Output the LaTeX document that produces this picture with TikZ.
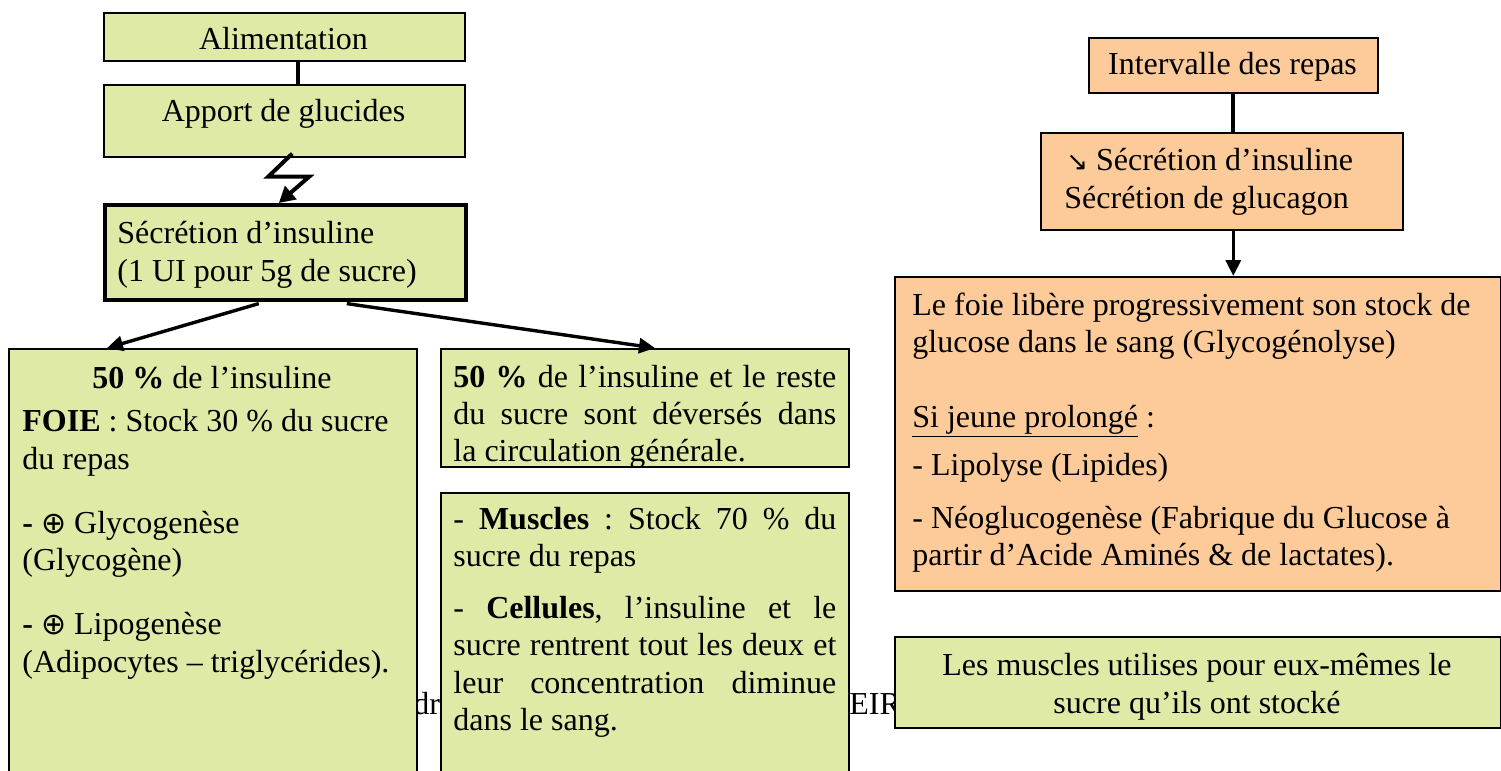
\documentclass[tikz,border=0pt]{standalone}
\usepackage{fontspec}
\setmainfont{Liberation Serif}
\newfontfamily\symf{DejaVu Sans}
\usetikzlibrary{arrows.meta}
\definecolor{gfill}{HTML}{DEEAA6}
\definecolor{ofill}{HTML}{FDCB99}
\newcommand\jl[1]{\makebox[191.5pt][s]{#1}}
\newcommand\oplusg{{\symf\fontsize{15}{17}\selectfont ⊕}}
\frenchspacing
\begin{document}
\begin{tikzpicture}[x=0.5pt,y=-0.5pt,
  box/.style={draw, line width=0.8pt, inner sep=0pt, anchor=north west},
  gbox/.style={box, fill=gfill},
  obox/.style={box, fill=ofill},
  txt/.style={inner sep=0pt, anchor=base west, font=\fontsize{16}{19}\selectfont},
  ctxt/.style={txt, anchor=base},
  conn/.style={line width=2pt},
  arr/.style={line width=1.7pt, -{Triangle[length=8pt,width=7.5pt]}}]
\useasboundingbox (0,0) rectangle (1501,771);
% partly hidden background text
\node[txt] (bgA) at (413,714) {dro};
\node[txt] (bgB) at (849,714) {EIRO};
% left column
\node[gbox, minimum width=180.5pt, minimum height=24pt] (alim) at (103,12) {};
\node[ctxt] (talim) at (283.5,49) {Alimentation};
\node[gbox, minimum width=180.5pt, minimum height=36pt] (apport) at (103,84) {};
\node[ctxt] (tapport) at (283.5,121) {Apport de glucides};
\node[gbox, line width=1.8pt, minimum width=180.5pt, minimum height=47.5pt] (secr) at (103,203) {};
\node[txt] (tsecr1) at (117,243) {Sécrétion d’insuline};
\node[txt] (tsecr2) at (117,281) {(1 UI pour 5g de sucre)};
\draw[conn] ([xshift=6.75pt]alim.south) -- ([xshift=6.75pt]apport.north);
\draw[line width=2pt, -{Triangle[length=8pt,width=8.5pt]}] ([xshift=4pt,yshift=2pt]apport.south) -- ++(-24,23) coordinate (z1) -- ++(41,0) coordinate (z2) -- ([xshift=-3.25pt]secr.north);
% left big box
\node[gbox, minimum width=204pt, minimum height=225pt] (foie) at (8,348) {};
\node[ctxt] (f1) at (212,388) {\textbf{50 \%} de l’insuline};
\node[txt] (f2) at (22,431) {\textbf{FOIE} : Stock 30 \% du sucre};
\node[txt] (f3) at (22,469) {du repas};
\node[txt] (f4) at (22,533) {\textbf{-} \oplusg{} Glycogenèse};
\node[txt] (f5) at (22,570) {(Glycogène)};
\node[txt] (f6) at (22,634) {\textbf{-} \oplusg{} Lipogenèse};
\node[txt] (f7) at (22,672) {(Adipocytes – triglycérides).};
% middle boxes
\node[gbox, minimum width=204pt, minimum height=59pt] (circ) at (440,348) {};
\node[txt] (c1) at (453,387) {\jl{\textbf{50 \%} de l’insuline et le reste}};
\node[txt] (c2) at (453,424) {\jl{du sucre sont déversés dans}};
\node[txt] (c3) at (453,461) {la circulation générale.};
\node[gbox, minimum width=204pt, minimum height=150pt] (musc) at (440,492) {};
\node[txt] (m1) at (453,529) {\jl{- \textbf{Muscles} : Stock 70 \% du}};
\node[txt] (m2) at (453,566) {sucre du repas};
\node[txt] (m3) at (453,618) {\jl{- \textbf{Cellules}, l’insuline et le}};
\node[txt] (m4) at (453,655) {\jl{sucre rentrent tout les deux et}};
\node[txt] (m5) at (453,693) {\jl{leur concentration diminue}};
\node[txt] (m6) at (453,730) {dans le sang.};
\draw[arr] ([xshift=-13.25pt,yshift=-1pt]secr.south) -- ([xshift=49.5pt]foie.north west);
\draw[arr] ([xshift=30.75pt,yshift=-1pt]secr.south) -- ([xshift=107.5pt]circ.north west);
% right column
\node[obox, minimum width=144.5pt, minimum height=27.5pt] (interv) at (1088,37) {};
\node[ctxt] (tinterv) at (1232.5,74) {Intervalle des repas};
\node[obox, minimum width=181pt, minimum height=48.5pt] (secr2) at (1040,132) {};
\node[txt] (ts1) at (1066,170) {{\symf\fontsize{13}{15}\selectfont ↘} Sécrétion d’insuline};
\node[txt] (ts2) at (1064,208) {Sécrétion de glucagon};
\node[obox, minimum width=303pt, minimum height=157pt] (liver) at (894,276) {};
\node[txt] (l1) at (912,315) {Le foie libère progressivement son stock de};
\node[txt] (l2) at (912,352) {glucose dans le sang (Glycogénolyse)};
\node[txt] (l3) at (912,427) {\underline{Si jeune prolongé} :};
\node[txt] (l4) at (912,475) {- Lipolyse (Lipides)};
\node[txt] (l5) at (912,528) {- Néoglucogenèse (Fabrique du Glucose à};
\node[txt] (l6) at (912,565) {partir d’Acide Aminés \& de lactates).};
\draw[conn] (interv.south) -- ([xshift=5.75pt]secr2.north);
\draw[arr] ([xshift=5.75pt]secr2.south) -- ([xshift=17.75pt]liver.north);
\node[gbox, minimum width=303pt, minimum height=45.5pt] (musc2) at (894,636) {};
\node[ctxt] (u1) at (1197,675) {Les muscles utilises pour eux-mêmes le};
\node[ctxt] (u2) at (1197,713) {sucre qu’ils ont stocké};
\end{tikzpicture}
\end{document}
